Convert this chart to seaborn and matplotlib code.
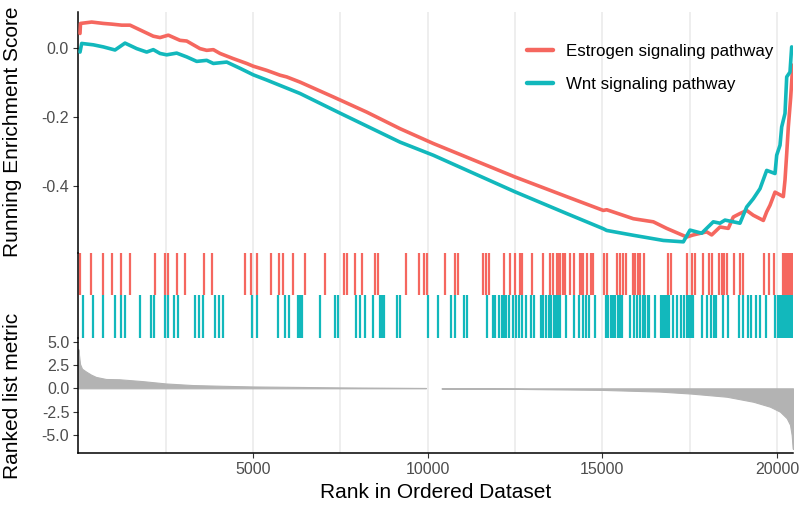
import numpy as np
import pandas as pd
import matplotlib
matplotlib.use("Agg")
import matplotlib.pyplot as plt
import seaborn as sns

# ---- gene sets and colours ----
pathways = ["Estrogen signaling pathway", "Wnt signaling pathway"]
palette = ["#F5675F", "#12B8BC"]

# ---- running enrichment score (rank, score) ----
es_rank_estrogen = [49, 63, 383, 716, 956, 1242, 1480, 2147, 2339, 2577, 2911, 3104,
                    3484, 3676, 3866, 4057, 4437, 4821, 5010, 5394, 5775, 5966, 6347,
                    7300, 8257, 9210, 10163, 12502, 13982, 15030, 15127, 15890, 16463,
                    16844, 17417, 17607, 17989, 18133, 18371, 18609, 18752, 18943,
                    19135, 19325, 19612, 19708, 19803, 19946, 20184, 20232, 20281,
                    20327, 20396, 20453]
es_score_estrogen = [0.043, 0.072, 0.076, 0.072, 0.070, 0.067, 0.067, 0.035, 0.031,
                     0.038, 0.023, 0.021, -0.001, -0.006, -0.004, -0.015, -0.030,
                     -0.044, -0.052, -0.064, -0.078, -0.083, -0.098, -0.141, -0.185,
                     -0.233, -0.276, -0.373, -0.430, -0.470, -0.468, -0.494, -0.503,
                     -0.522, -0.547, -0.541, -0.532, -0.541, -0.518, -0.522, -0.489,
                     -0.479, -0.470, -0.484, -0.499, -0.474, -0.455, -0.417, -0.430,
                     -0.382, -0.305, -0.228, -0.141, -0.049]

es_rank_wnt = [49, 97, 430, 716, 1051, 1337, 1672, 1958, 2147, 2339, 2530, 2817, 3104,
               3390, 3676, 3866, 4249, 4629, 5010, 5394, 6347, 7493, 9210, 10163,
               12502, 13982, 15030, 15127, 15890, 16463, 16749, 17321, 17512, 17847,
               18179, 18371, 18514, 18752, 18943, 19135, 19325, 19516, 19708, 19946,
               19994, 20089, 20137, 20232, 20281, 20375, 20423]
es_score_wnt = [-0.011, 0.014, 0.010, 0.004, -0.005, 0.015, -0.001, -0.011, -0.004,
                -0.015, -0.019, -0.014, -0.025, -0.038, -0.035, -0.044, -0.040,
                -0.058, -0.077, -0.092, -0.131, -0.188, -0.272, -0.310, -0.416,
                -0.479, -0.523, -0.528, -0.542, -0.552, -0.557, -0.561, -0.527,
                -0.536, -0.503, -0.507, -0.498, -0.503, -0.507, -0.460, -0.436,
                -0.407, -0.354, -0.363, -0.310, -0.281, -0.228, -0.189, -0.083,
                -0.069, 0.004]

# ---- positions of gene-set members in the ranked list ----
hits_estrogen = [57, 372, 699, 956, 1222, 1480, 2204, 2474, 2559, 2826, 3055, 3607, 3828,
                 4764, 4944, 5107, 5517, 5737, 5869, 6138, 6490, 7071, 7606, 7684, 7913,
                 8122, 8503, 8580, 9381, 9745, 9905, 9983, 10498, 10793, 10871, 11578,
                 11664, 11750, 12188, 12360, 12511, 12637, 12712, 12989, 13313, 13505,
                 13582, 13696, 13742, 13791, 13868, 13943, 14077, 14200, 14364, 14412,
                 14458, 14556, 14679, 14745, 15060, 15137, 15423, 15509, 15595, 15681,
                 15873, 15947, 16025, 16082, 16196, 16875, 16970, 17419, 17570, 17665,
                 17894, 18066, 18143, 18352, 18429, 18495, 18564, 18772, 18944, 19030,
                 19640, 19766, 19926, 20167, 20204, 20247, 20290, 20333, 20376, 20419]
hits_wnt = [126, 429, 716, 1042, 1222, 1328, 1758, 2081, 2159, 2482, 2559, 2748, 2846,
            3350, 3464, 3579, 3905, 4037, 4151, 4982, 5107, 5726, 5926, 6032, 6281, 6347,
            6404, 6920, 7349, 7427, 7942, 8065, 8200, 8446, 8646, 8704, 8761, 9124, 9210,
            10003, 10290, 10670, 10785, 11034, 11120, 11692, 11864, 11939, 12053, 12122,
            12188, 12254, 12322, 12446, 12532, 12626, 12703, 12818, 12952, 13055, 13247,
            13313, 13390, 13462, 13533, 13628, 13685, 13742, 13791, 13963, 14200, 14344,
            14441, 14536, 14613, 14802, 15108, 15174, 15243, 15309, 15374, 15443, 15494,
            15557, 15795, 15918, 15987, 16082, 16159, 16225, 16297, 16348, 16502, 16683,
            16740, 16797, 16846, 16920, 17018, 17141, 17255, 17350, 17413, 17476, 17539,
            17599, 17857, 17991, 18115, 18186, 18258, 18449, 18601, 18925, 19022, 19165,
            19260, 19403, 19526, 19689, 19955, 20018, 20081, 20144, 20204, 20261, 20319,
            20376, 20433]

# ---- ranked list metric (rank, value) ----
metric_rank_pos = [1, 10, 50, 106, 220, 363, 506, 793, 1174, 1843, 2511, 3275, 4134,
                   5000, 7500, 9950]
metric_value_pos = [4.2, 3.9, 2.6, 2.1, 1.8, 1.47, 1.22, 1.0, 0.97, 0.77, 0.52, 0.35,
                    0.27, 0.2, 0.1, 0.04]
metric_rank_neg = [10400, 12500, 15000, 16653, 17533, 18563, 19325, 19803, 20089, 20281,
                   20375, 20423, 20452, 20461]
metric_value_neg = [-0.03, -0.06, -0.17, -0.35, -0.56, -0.9, -1.44, -1.97, -2.5, -3.2,
                    -3.9, -5.0, -6.4, -6.5]

n_genes = 20461
x_grid = [2500, 5000, 7500, 10000, 12500, 15000, 17500, 20000]

# ---------------------------------------------------------------
sns.set_theme(style="white")
plt.rcParams["font.family"] = ["Liberation Sans", "DejaVu Sans"]

tick_col = "#4D4D4D"
grid_col = "#EBEBEB"
gray_fill = "#B3B3B3"

fig = plt.figure(figsize=(8.03, 5.08), dpi=100)
W, H = 803, 508
left_px, right_px = 78.3, 793.0


def add_panel(top_px, bottom_px):
    return fig.add_axes([left_px / W, 1 - bottom_px / H,
                         (right_px - left_px) / W, (bottom_px - top_px) / H])


ax_es = add_panel(11.7, 252.7)
ax_rug = add_panel(252.7, 338.3)
ax_rank = add_panel(338.3, 453.0)

for ax in (ax_es, ax_rug, ax_rank):
    ax.set_xlim(0, n_genes)
    for g in x_grid:
        ax.axvline(g, color=grid_col, lw=1.2, zorder=0)
    for s in ("top", "right", "bottom"):
        ax.spines[s].set_visible(False)
    ax.spines["left"].set_color("black")
    ax.spines["left"].set_linewidth(1.1)
    ax.tick_params(axis="both", colors="#333333", labelcolor=tick_col,
                   labelsize=11.5, length=3.5, width=0.8, left=True, bottom=False)
    ax.set_facecolor("none")

# running enrichment score
es_df = pd.concat([
    pd.DataFrame({"rank": es_rank_estrogen, "score": es_score_estrogen,
                  "Description": pathways[0]}),
    pd.DataFrame({"rank": es_rank_wnt, "score": es_score_wnt,
                  "Description": pathways[1]}),
])
sns.lineplot(data=es_df, x="rank", y="score", hue="Description",
             palette=palette, hue_order=pathways, linewidth=2.6,
             estimator=None, sort=False, ax=ax_es, zorder=3)
ax_es.set_ylim(-0.5925, 0.106)
ax_es.set_yticks([0.0, -0.2, -0.4])
ax_es.set_yticklabels(["0.0", "-0.2", "-0.4"])
ax_es.set_xticks([])
ax_es.set_xlabel("")
ax_es.set_ylabel("Running Enrichment Score", fontsize=15, color="black")
leg = ax_es.legend(loc="upper left", bbox_to_anchor=(527 / W, 1 - 44 / H),
                   bbox_transform=fig.transFigure, frameon=False, fontsize=12.2,
                   handlelength=1.55, handletextpad=0.78, labelspacing=1.05,
                   borderpad=0, borderaxespad=0)
for line in leg.get_lines():
    line.set_linewidth(3.2)
for t in leg.get_texts():
    t.set_color("black")

# hit positions, one row per gene set
for row, (hits, col) in enumerate(zip([hits_estrogen, hits_wnt], palette)):
    ax_rug.vlines(hits, 1 - row, 2 - row, colors=col, linewidth=1.6, zorder=2)
ax_rug.set_ylim(0, 2)
ax_rug.set_yticks([])
ax_rug.set_xticks([])
ax_rug.tick_params(left=False)

# ranked list metric
ax_rank.fill_between(metric_rank_pos, 0, metric_value_pos, color=gray_fill,
                     edgecolor=gray_fill, linewidth=0.8, zorder=2)
ax_rank.fill_between(metric_rank_neg, 0, metric_value_neg, color=gray_fill,
                     edgecolor=gray_fill, linewidth=0.8, zorder=2)
ax_rank.set_ylim(-6.93, 5.36)
ax_rank.set_yticks([5.0, 2.5, 0.0, -2.5, -5.0])
ax_rank.set_yticklabels(["5.0", "2.5", "0.0", "-2.5", "-5.0"])
ax_rank.set_xticks([5000, 10000, 15000, 20000])
ax_rank.set_xticklabels(["5000", "10000", "15000", "20000"])
ax_rank.spines["bottom"].set_visible(True)
ax_rank.spines["bottom"].set_color("black")
ax_rank.spines["bottom"].set_linewidth(1.1)
ax_rank.tick_params(bottom=True, pad=3)
ax_rank.set_ylabel("Ranked list metric", fontsize=15, color="black")
ax_rank.set_xlabel("Rank in Ordered Dataset", fontsize=15, color="black", labelpad=4)

# both y-labels share one column left of the tick labels
label_x = -56.3 / (right_px - left_px)
ax_es.yaxis.set_label_coords(label_x, 0.5)
ax_rank.yaxis.set_label_coords(label_x, 0.5)

fig.savefig("out.png", dpi=100)
